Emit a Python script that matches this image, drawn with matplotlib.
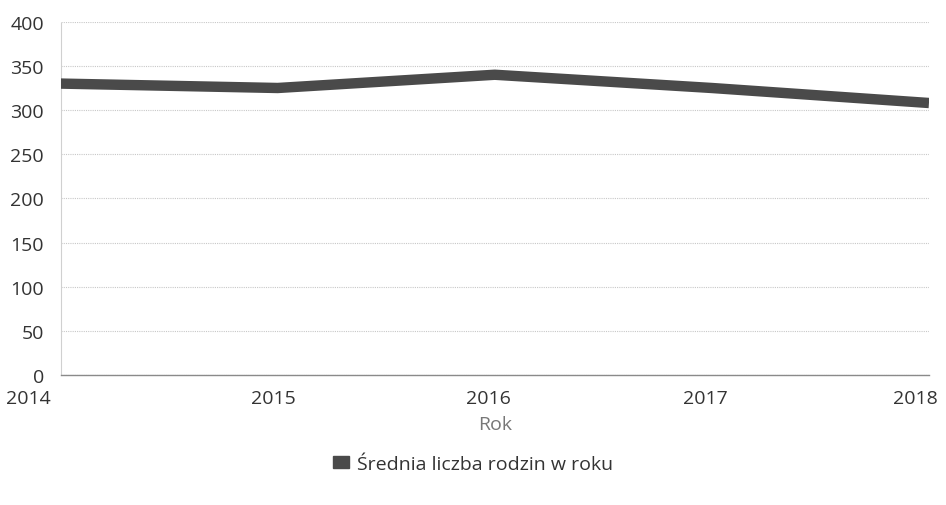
import matplotlib
matplotlib.use("Agg")
import matplotlib.pyplot as plt
import matplotlib.transforms as mtransforms
from matplotlib.patches import Patch

years = ["2014", "2015", "2016", "2017", "2018"]
avg_families = [330, 325, 340, 325, 308]
y_ticks = [0, 50, 100, 150, 200, 250, 300, 350, 400]
series_label = "Średnia liczba rodzin w roku"

plt.rcParams["font.family"] = ["Open Sans", "DejaVu Sans"]

fig = plt.figure(figsize=(9.46, 5.06), dpi=100)
ax = fig.add_axes([0.064, 0.257, 0.918, 0.698])

x = list(range(len(years)))
ax.plot(x, avg_families, color="#4a4a4a", linewidth=7.5, solid_capstyle="butt",
        solid_joinstyle="round", zorder=3)

ax.set_xlim(0, len(years) - 1)
ax.set_ylim(0, 400)
ax.set_yticks(y_ticks)
ax.set_xticks(x)
ax.set_xticklabels(years)

ax.grid(True, axis="y", linestyle=(0, (1, 1)), color="#c8c8c8", linewidth=0.8)
ax.set_axisbelow(True)

for side in ["top", "right"]:
    ax.spines[side].set_visible(False)
ax.spines["left"].set_color("#d0d0d0")
ax.spines["left"].set_linestyle((0, (1, 1)))
ax.spines["bottom"].set_color("#8a8a8a")
ax.spines["bottom"].set_linewidth(1.0)

ax.tick_params(axis="both", length=0, labelsize=14, colors="#333333")
ax.tick_params(axis="y", pad=12)
ax.tick_params(axis="x", pad=10)

# nudge x labels left so the outer ones stay inside the figure
shifts = [-32, -4, -6, -6, -14]
for lbl, dx in zip(ax.get_xticklabels(), shifts):
    lbl.set_transform(lbl.get_transform() +
                      mtransforms.ScaledTranslation(dx / 100, 0, fig.dpi_scale_trans))

ax.set_xlabel("Rok", fontsize=14, color="#777777", labelpad=6)

handle = Patch(facecolor="#4a4a4a", edgecolor="#4a4a4a")
fig.legend([handle], [series_label], loc="center", bbox_to_anchor=(0.5, 0.081),
           frameon=False, fontsize=14, handlelength=0.8, handleheight=0.55,
           handletextpad=0.4, labelcolor="#333333")

fig.savefig("out.png", dpi=100)
